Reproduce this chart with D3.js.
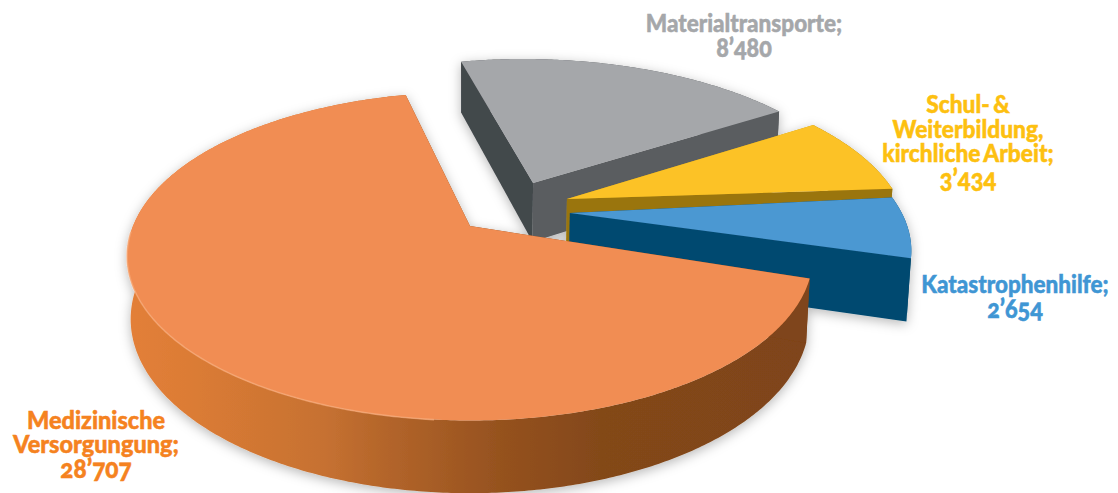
<!DOCTYPE html>
<html lang="de">
<head>
<meta charset="utf-8">
<title>Einsatzbereiche</title>
<script src="https://cdnjs.cloudflare.com/ajax/libs/d3/7.8.5/d3.min.js"></script>
<style>
html,body{margin:0;padding:0;background:#fff}
svg{display:block}
text{font-family:Lato,"Open Sans",sans-serif;font-weight:900;text-anchor:middle;word-spacing:-2px;stroke-width:0.5px;font-feature-settings:"onum" 1,"lnum" 0}
</style>
</head>
<body>
<svg id="chart" width="1118" height="493"></svg>
<script>
// Flight hours per field of work, clockwise from the back of the pie
const categories = ["Materialtransporte", "Schul- & Weiterbildung, kirchliche Arbeit", "Katastrophenhilfe", "Medizinische Versorgungung"];
const values = [8480, 3434, 2654, 28707];
const labelLines = [
  ["Materialtransporte;"],
  ["Schul- &", "Weiterbildung,", "kirchliche Arbeit;"],
  ["Katastrophenhilfe;"],
  ["Medizinische", "Versorgungung;"]
];

// Styling of each slice
const topColors   = ["#a5a7aa", "#fcc226", "#4b98d2", "#f18d52"];
const labelColors = ["#a5a7aa", "#fdc010", "#3f96d4", "#f58220"];
const wallColors  = ["#55585b", "#9a7510", "#064a70", "url(#wallOrange)"];
const cutLeft     = ["#43484c", "#c39a1c", "#064a70", "#7f441a"];
const cutRight    = ["#5a5d60", "#9a7510", "#064a70", "#7f441a"];
const explodeX = [0.197, 0.297, 0.301, 0];
const explodeY = [0.285, 0.176, 0.083, 0];
const radii    = [1.02, 1.015, 1.0, 1.0];
const turnDegrees = [0, 0, -2, 0];
const labelX   = [744, 968, 1015, 96];
const labelY   = [32, 113, 293, 429];
const lineGap  = [23.5, 24.6, 23.5, 24];
const labelWidthScale = [0.9, 0.91, 0.9, 0.94];

// Perspective of the pie plane
const view = {cx: 470, cy: 226, a: 337, ry: 158.7, p: 0.184, q: 0.01, h: 62};
const project = (x, y, d) => {
  const w = 1 + view.p * y + view.q * d;
  return [view.cx + view.a * x / w, view.cy - view.ry * y / w + view.h * d / w];
};

const svg = d3.select("#chart");
const defs = svg.append("defs");

const wall = defs.append("linearGradient").attr("id", "wallOrange")
  .attr("gradientUnits", "userSpaceOnUse").attr("x1", 118).attr("x2", 808).attr("y1", 0).attr("y2", 0);
[[0, "#e4803a"], [0.1, "#dc7c35"], [0.3, "#c67131"], [0.38, "#b5662b"], [0.55, "#96521f"], [0.7, "#834819"], [1, "#7f441a"]]
  .forEach(([o, c]) => wall.append("stop").attr("offset", o).attr("stop-color", c));

const shadow = defs.append("filter").attr("id", "softShadow").attr("filterUnits", "userSpaceOnUse")
  .attr("x", 0).attr("y", 0).attr("width", 1118).attr("height", 493);
shadow.append("feGaussianBlur").attr("in", "SourceGraphic").attr("stdDeviation", 0.6).attr("result", "soft");
shadow.append("feDropShadow").attr("in", "soft").attr("dx", 0).attr("dy", 3).attr("stdDeviation", 6)
  .attr("flood-color", "#000").attr("flood-opacity", 0.28);

const degrees = Math.PI / 180;
const pie = d3.pie().sort(null).startAngle(-13 * degrees).endAngle(347 * degrees);
const arcs = pie(values);
const line = d3.line();

const arcSamples = (s, e) => {
  const n = Math.ceil((e - s) / 0.01);
  return d3.range(n + 1).map(i => s + (e - s) * i / n);
};

const g = svg.append("g").attr("filter", "url(#softShadow)");

arcs.forEach((arc, i) => {
  const ox = explodeX[i], oy = explodeY[i], r = radii[i];
  const start = arc.startAngle + turnDegrees[i] * degrees;
  const end = arc.endAngle + turnDegrees[i] * degrees;
  const at = (a, d) => project(ox + r * Math.sin(a), oy + r * Math.cos(a), d);
  const apex = d => project(ox, oy, d);
  const rim = arcSamples(start, end);
  const slice = g.append("g").attr("class", "slice");

  // outer wall first, then the cut faces on either side, then the top
  slice.append("path").attr("fill", wallColors[i])
    .attr("d", line(rim.map(a => at(a, 0)).concat(rim.slice().reverse().map(a => at(a, 1)))) + "Z");
  slice.append("path").attr("fill", cutLeft[i])
    .attr("d", line([apex(0), at(start, 0), at(start, 1), apex(1)]) + "Z");
  slice.append("path").attr("fill", cutRight[i])
    .attr("d", line([apex(0), at(end, 0), at(end, 1), apex(1)]) + "Z");
  slice.append("path").attr("fill", topColors[i])
    .attr("d", line([apex(0)].concat(rim.map(a => at(a, 0)))) + "Z");

  // bevel catching the light along the front-left rim of the large slice
  if (i === arcs.length - 1) {
    slice.append("path").attr("fill", "none").attr("stroke", "#f8ab7a").attr("stroke-width", 1.6).attr("stroke-opacity", 0.7)
      .attr("d", line(arcSamples(185 * degrees, 268 * degrees).map(a => at(a, 0))));
  }
});

// Labels: name lines followed by the value with a Swiss thousands mark
const fmt = d3.formatLocale({decimal: ".", thousands: "’", grouping: [3], currency: ["", ""]}).format(",");
categories.forEach((name, i) => {
  const rows = labelLines[i].concat(fmt(values[i]));
  const label = svg.append("text").attr("class", "label").attr("fill", labelColors[i]).attr("stroke", labelColors[i])
    .attr("font-size", 25)
    .attr("transform", `translate(${labelX[i]},${labelY[i]}) scale(${labelWidthScale[i]},1)`);
  rows.forEach((row, k) => {
    const isValue = k === rows.length - 1;
    label.append("tspan").attr("x", 0).attr("y", k * lineGap[i] + (isValue ? 1.5 : 0))
      .attr("font-size", isValue ? 26 : null).text(row);
  });
});
</script>
</body>
</html>
